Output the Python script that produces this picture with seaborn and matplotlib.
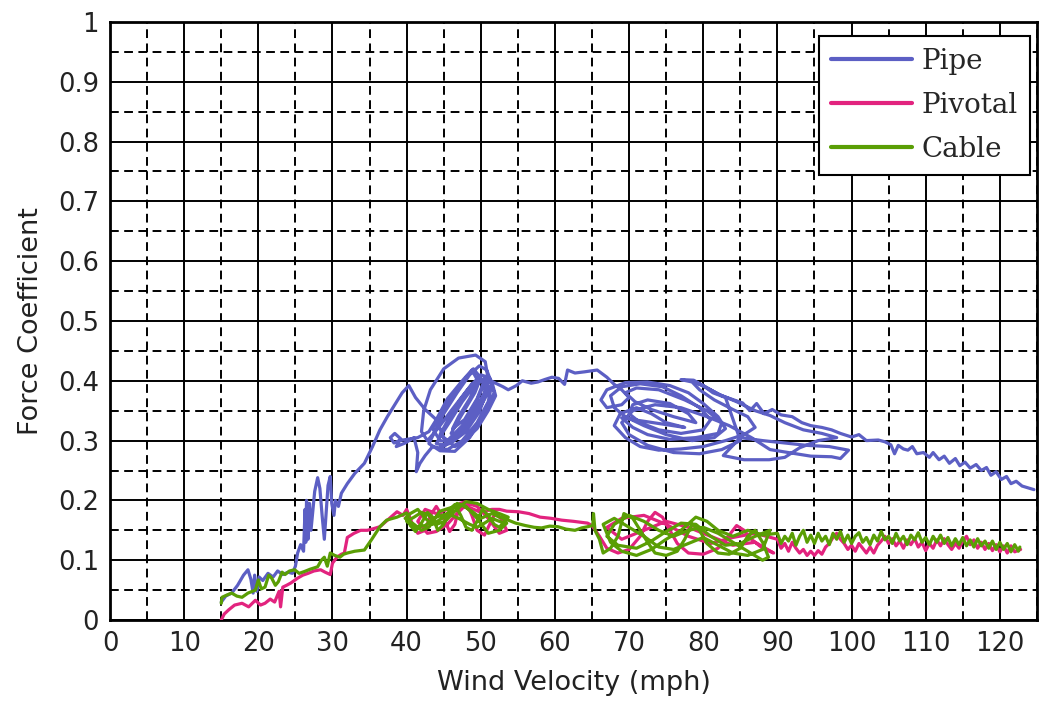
import matplotlib
matplotlib.use("Agg")
import matplotlib.pyplot as plt
import seaborn as sns
import pandas as pd
from matplotlib.ticker import MultipleLocator, FuncFormatter

# ---------------- data ----------------
series_names = ["Pipe", "Pivotal", "Cable"]
series_colors = ["#5c5fc4", "#e2237e", "#5a9e05"]
x_ticks = [0, 10, 20, 30, 40, 50, 60, 70, 80, 90, 100, 110, 120]
y_ticks = [0, 0.1, 0.2, 0.3, 0.4, 0.5, 0.6, 0.7, 0.8, 0.9, 1.0]
x_label = "Wind Velocity (mph)"
y_label = "Force Coefficient"

pipe_xy = [
    (15.0, 0.030), (15.6, 0.040), (16.4, 0.045), (17.2, 0.058), (18.0, 0.075), (18.6, 0.084),
    (19.0, 0.068), (19.3, 0.045), (19.5, 0.075), (19.8, 0.048), (20.1, 0.072), (20.6, 0.066),
    (21.3, 0.078), (22.0, 0.072), (22.6, 0.082), (23.3, 0.076), (24.0, 0.080), (24.6, 0.078),
    (25.0, 0.090), (25.3, 0.112), (25.7, 0.126), (26.1, 0.115), (26.3, 0.185), (26.4, 0.130),
    (26.5, 0.200), (26.7, 0.135), (26.9, 0.195), (27.1, 0.150), (27.6, 0.215), (28.0, 0.238),
    (28.3, 0.220), (28.6, 0.175), (28.9, 0.135), (29.1, 0.170), (29.4, 0.225), (29.7, 0.240),
    (29.9, 0.195), (30.2, 0.175), (30.4, 0.200), (30.8, 0.190), (31.2, 0.212), (32.0, 0.228),
    (33.0, 0.245), (34.3, 0.262), (35.4, 0.290), (36.4, 0.318), (37.4, 0.340), (38.5, 0.362),
    (39.4, 0.380), (40.3, 0.392), (41.2, 0.372), (42.5, 0.352), (44.0, 0.335), (43.0, 0.315),
    (41.5, 0.305), (40.0, 0.302), (39.0, 0.300), (38.3, 0.296), (37.8, 0.305), (38.4, 0.312),
    (39.2, 0.303), (38.6, 0.290), (39.8, 0.296), (41.0, 0.305), (41.5, 0.280), (41.3, 0.248),
    (41.8, 0.262), (42.5, 0.275),
    (43.5, 0.290), (45.5, 0.285), (47.5, 0.300), (49.5, 0.330), (51.0, 0.365), (51.5, 0.395),
    (50.8, 0.418), (49.8, 0.425), (48.5, 0.410), (46.8, 0.380), (45.0, 0.345), (43.8, 0.315),
    (43.0, 0.295), (44.5, 0.283), (46.5, 0.282), (48.5, 0.305), (50.5, 0.345), (51.8, 0.380),
    (51.2, 0.405), (50.0, 0.410), (48.2, 0.385), (46.0, 0.350), (44.2, 0.320), (42.8, 0.300),
    (42.0, 0.315), (42.3, 0.350), (43.2, 0.385), (45.0, 0.420), (47.0, 0.438), (49.3, 0.443),
    (50.6, 0.432), (50.9, 0.410), (50.5, 0.380), (49.0, 0.345), (47.5, 0.318), (46.0, 0.300),
    (44.6, 0.290), (46.0, 0.296), (48.0, 0.315), (49.8, 0.348), (50.8, 0.382), (50.2, 0.402),
    (48.8, 0.395), (47.2, 0.368), (45.6, 0.335), (44.5, 0.310), (45.5, 0.300), (47.5, 0.325),
    (49.2, 0.360), (50.5, 0.395), (51.5, 0.398), (52.0, 0.375), (51.0, 0.350), (49.5, 0.320),
    (47.8, 0.300), (46.5, 0.290), (45.0, 0.305), (44.0, 0.335), (45.5, 0.370), (47.5, 0.400),
    (48.8, 0.418), (49.6, 0.400), (48.5, 0.370), (47.0, 0.340), (46.2, 0.320), (47.8, 0.335),
    (49.5, 0.370), (50.6, 0.405), (49.0, 0.390), (47.5, 0.365), (46.0, 0.335), (44.8, 0.312),
    (44.0, 0.295), (45.2, 0.292), (46.8, 0.308), (48.2, 0.332), (49.8, 0.362), (51.0, 0.390),
    (50.4, 0.372), (49.0, 0.340), (47.2, 0.312), (45.8, 0.298), (44.5, 0.300), (43.5, 0.320),
    (44.8, 0.350), (46.5, 0.378), (48.0, 0.405), (49.0, 0.420), (50.0, 0.405), (49.2, 0.380),
    (48.0, 0.355), (46.8, 0.330), (46.0, 0.312), (47.0, 0.310), (48.5, 0.330), (50.0, 0.358),
    (51.2, 0.385), (50.6, 0.405),
    (52.0, 0.396), (53.0, 0.390), (53.7, 0.385), (54.8, 0.392), (55.6, 0.400), (56.8, 0.396),
    (57.7, 0.398), (58.6, 0.402), (59.6, 0.406), (60.5, 0.404), (61.3, 0.394), (61.7, 0.418),
    (62.7, 0.413), (64.0, 0.415), (65.7, 0.418), (67.0, 0.406), (68.0, 0.394),
    (69.0, 0.385), (70.0, 0.372), (69.0, 0.360), (67.0, 0.355), (66.2, 0.368), (67.0, 0.385),
    (69.5, 0.397), (72.5, 0.398), (75.5, 0.392), (78.0, 0.380), (80.0, 0.362), (82.0, 0.340),
    (83.0, 0.320), (81.5, 0.305), (78.5, 0.300), (75.0, 0.310), (72.0, 0.325), (69.5, 0.340),
    (68.0, 0.355), (67.5, 0.375), (69.0, 0.390), (71.5, 0.395), (74.5, 0.390), (77.0, 0.375),
    (79.5, 0.355), (81.0, 0.335), (80.0, 0.318), (77.0, 0.312), (74.0, 0.318), (71.5, 0.330),
    (70.0, 0.345), (70.5, 0.360), (72.5, 0.368), (75.5, 0.362), (78.0, 0.345), (79.0, 0.330),
    (76.0, 0.340), (73.0, 0.352), (70.8, 0.365), (69.5, 0.380), (71.0, 0.388), (74.0, 0.385),
    (77.5, 0.368), (80.5, 0.350), (82.5, 0.330), (82.0, 0.312), (79.0, 0.305), (75.5, 0.302),
    (72.5, 0.310), (70.5, 0.322), (69.0, 0.338),
    (77.5, 0.322), (75.0, 0.330), (73.0, 0.345), (71.0, 0.355), (68.8, 0.345), (68.0, 0.325),
    (69.5, 0.305), (71.5, 0.290), (74.0, 0.284), (77.0, 0.286), (80.0, 0.290), (83.0, 0.300),
    (85.5, 0.310), (87.0, 0.322), (86.0, 0.340), (84.0, 0.352), (81.5, 0.368), (79.5, 0.385),
    (78.5, 0.398), (77.0, 0.402), (78.7, 0.401), (80.0, 0.392), (81.3, 0.380), (83.0, 0.372),
    (85.0, 0.300), (82.5, 0.285), (79.5, 0.278), (76.0, 0.280), (72.5, 0.292), (70.0, 0.310),
    (69.0, 0.330), (70.5, 0.350), (73.5, 0.360), (77.0, 0.355), (80.5, 0.340), (83.5, 0.325),
    (86.5, 0.305), (89.0, 0.285), (92.0, 0.279), (94.5, 0.274), (97.3, 0.273), (98.5, 0.270),
    (99.6, 0.284), (97.0, 0.290), (94.0, 0.292), (91.0, 0.296), (88.0, 0.300), (85.0, 0.305),
    (82.7, 0.275), (85.5, 0.268), (88.9, 0.268), (91.0, 0.272), (93.0, 0.288), (95.5, 0.300),
    (98.0, 0.305), (96.0, 0.312), (93.5, 0.318), (91.0, 0.330), (89.0, 0.342), (87.0, 0.350),
    (84.5, 0.365), (82.0, 0.378), (80.0, 0.392), (78.5, 0.400), (80.5, 0.388), (82.5, 0.375),
    (85.3, 0.363), (86.3, 0.350), (87.2, 0.362), (88.2, 0.345), (89.3, 0.352), (90.5, 0.343),
    (92.0, 0.340), (93.3, 0.330), (94.5, 0.325), (96.0, 0.322), (97.3, 0.318), (98.5, 0.312),
    (100.0, 0.306), (101.0, 0.310), (102.0, 0.300), (103.6, 0.301), (104.5, 0.298), (105.3, 0.293),
    (105.8, 0.278), (106.3, 0.292), (107.0, 0.286), (107.6, 0.284), (108.2, 0.290), (108.8, 0.278),
    (109.7, 0.280), (110.5, 0.272), (111.0, 0.280), (111.8, 0.268), (112.5, 0.274), (113.2, 0.262),
    (114.0, 0.270), (114.6, 0.258), (115.3, 0.264), (116.0, 0.254), (116.8, 0.260), (117.5, 0.250),
    (118.2, 0.255), (118.8, 0.242), (119.5, 0.248), (120.2, 0.235), (120.9, 0.240), (121.5, 0.228),
    (122.2, 0.232), (123.0, 0.224), (123.8, 0.221), (124.6, 0.218),
]

pivotal_xy = [
    (15.0, 0.000), (15.4, 0.010), (16.0, 0.017), (16.8, 0.025), (17.8, 0.028), (18.7, 0.022),
    (19.6, 0.033), (20.3, 0.025), (20.9, 0.028), (21.6, 0.035), (22.2, 0.030), (22.8, 0.048),
    (23.0, 0.022), (23.3, 0.055), (23.8, 0.058), (24.4, 0.062), (25.3, 0.070), (26.0, 0.075),
    (26.7, 0.078), (27.5, 0.082), (28.4, 0.084), (29.0, 0.080), (29.7, 0.076), (30.0, 0.095),
    (30.6, 0.105), (31.2, 0.110), (31.6, 0.112), (32.0, 0.138), (32.9, 0.145), (33.8, 0.150),
    (34.7, 0.150), (35.6, 0.153), (36.4, 0.156), (37.5, 0.168), (38.7, 0.181), (39.5, 0.175),
    (40.0, 0.185), (40.8, 0.160), (41.5, 0.145), (42.5, 0.150), (43.2, 0.175), (44.0, 0.190),
    (45.0, 0.170), (45.8, 0.148), (46.5, 0.160), (47.2, 0.195), (48.0, 0.198), (48.8, 0.175),
    (49.5, 0.150), (50.5, 0.142), (51.2, 0.160), (52.0, 0.180), (52.8, 0.168), (53.5, 0.150),
    (52.5, 0.145), (51.0, 0.170), (49.5, 0.190), (48.2, 0.195), (46.8, 0.178), (45.5, 0.160),
    (44.0, 0.148), (42.8, 0.145), (41.5, 0.165), (42.5, 0.185), (44.0, 0.178), (45.5, 0.185),
    (47.0, 0.190), (48.5, 0.188), (50.0, 0.180), (51.5, 0.185), (52.5, 0.185), (53.5, 0.182),
    (55.1, 0.181), (56.5, 0.178), (58.0, 0.172), (59.5, 0.170), (60.9, 0.167), (62.5, 0.165),
    (64.4, 0.162), (65.0, 0.158), (66.0, 0.140), (67.0, 0.120), (68.5, 0.112), (70.0, 0.118),
    (71.5, 0.140), (72.5, 0.165), (73.5, 0.180), (74.5, 0.172), (75.5, 0.150), (76.5, 0.128),
    (78.0, 0.112), (80.0, 0.110), (82.0, 0.120), (83.5, 0.142), (84.5, 0.158), (85.5, 0.150),
    (86.5, 0.135), (88.0, 0.120), (89.5, 0.112), (87.0, 0.130), (84.0, 0.125), (81.0, 0.140),
    (78.0, 0.155), (75.0, 0.165), (72.0, 0.150), (69.0, 0.135), (67.0, 0.155), (69.0, 0.170),
    (72.0, 0.175), (75.0, 0.160), (78.0, 0.140), (81.0, 0.128), (84.0, 0.138), (87.0, 0.145),
    (90.0, 0.135), (90.5, 0.120), (91.0, 0.128), (91.5, 0.115), (92.0, 0.130), (92.5, 0.120),
    (93.0, 0.112), (93.5, 0.118), (94.0, 0.108), (94.5, 0.115), (95.0, 0.108), (95.5, 0.116),
    (96.0, 0.110), (96.5, 0.122), (97.0, 0.128), (97.5, 0.138), (98.0, 0.145), (98.5, 0.135),
    (99.0, 0.128), (99.5, 0.118), (100.0, 0.125), (100.5, 0.115), (101.0, 0.128), (101.5, 0.120),
    (102.0, 0.112), (102.5, 0.122), (103.0, 0.112), (103.5, 0.125), (104.0, 0.132), (104.5, 0.140),
    (105.0, 0.128), (105.5, 0.136), (106.0, 0.124), (106.5, 0.132), (107.0, 0.120), (107.5, 0.134),
    (108.0, 0.126), (108.5, 0.136), (109.0, 0.122), (109.5, 0.130), (110.0, 0.116), (110.5, 0.128),
    (111.0, 0.120), (111.5, 0.134), (112.0, 0.124), (112.5, 0.136), (113.0, 0.126), (113.5, 0.118),
    (114.0, 0.128), (114.5, 0.120), (115.0, 0.132), (115.5, 0.140), (116.0, 0.126), (116.5, 0.134),
    (117.0, 0.120), (117.5, 0.130), (118.0, 0.118), (118.5, 0.128), (119.0, 0.116), (119.5, 0.126),
    (120.0, 0.114), (120.5, 0.124), (121.0, 0.112), (121.5, 0.124), (122.0, 0.114), (122.8, 0.118),
]

cable_xy = [
    (15.0, 0.028), (15.1, 0.038), (15.8, 0.042), (16.4, 0.045), (17.1, 0.040), (17.8, 0.038),
    (18.6, 0.045), (19.6, 0.050), (20.0, 0.067), (20.4, 0.052), (20.9, 0.055), (21.4, 0.075),
    (21.8, 0.070), (22.3, 0.058), (22.7, 0.064), (23.2, 0.080), (23.6, 0.076), (24.2, 0.082),
    (24.9, 0.084), (25.5, 0.078), (26.2, 0.081), (27.0, 0.085), (28.0, 0.089), (28.5, 0.100),
    (28.9, 0.105), (29.3, 0.090), (29.7, 0.112), (30.3, 0.108), (31.0, 0.105), (31.5, 0.110),
    (32.0, 0.112), (33.0, 0.115), (34.3, 0.117), (35.3, 0.135), (36.4, 0.156), (37.3, 0.167),
    (38.7, 0.172), (40.0, 0.179), (40.5, 0.158), (41.2, 0.148), (42.0, 0.162), (42.8, 0.180),
    (43.5, 0.172), (44.2, 0.150), (45.0, 0.160), (45.8, 0.185), (46.5, 0.193), (47.3, 0.175),
    (48.0, 0.155), (48.8, 0.150), (49.5, 0.165), (50.2, 0.185), (51.0, 0.175), (51.8, 0.160),
    (52.5, 0.155), (53.2, 0.165), (53.7, 0.172), (52.5, 0.178), (51.0, 0.185), (49.5, 0.195),
    (48.0, 0.198), (46.5, 0.182), (45.2, 0.165), (44.0, 0.160), (43.0, 0.175), (42.0, 0.180),
    (41.0, 0.172), (40.0, 0.165), (41.0, 0.155), (42.5, 0.158), (44.0, 0.172), (45.5, 0.178),
    (47.0, 0.170), (48.5, 0.160), (49.5, 0.155), (50.5, 0.162), (51.5, 0.170), (52.5, 0.165),
    (53.5, 0.162), (52.5, 0.150), (51.0, 0.145), (49.5, 0.170), (48.0, 0.190), (46.8, 0.195),
    (45.5, 0.175), (44.5, 0.168), (43.5, 0.160), (42.5, 0.170), (41.5, 0.185), (40.5, 0.178),
    (39.8, 0.170), (41.0, 0.160), (42.0, 0.150), (43.0, 0.155), (44.5, 0.182), (46.0, 0.188),
    (47.5, 0.192), (49.0, 0.180), (50.0, 0.170), (51.5, 0.178), (52.5, 0.172), (53.5, 0.168),
    (54.7, 0.162), (56.0, 0.158), (57.2, 0.155), (58.2, 0.154), (59.3, 0.157),
    (60.4, 0.156), (61.5, 0.152), (62.7, 0.150), (63.6, 0.154), (64.4, 0.156), (65.1, 0.158),
    (65.2, 0.178), (65.4, 0.150), (66.0, 0.135), (66.5, 0.112), (67.5, 0.120), (68.5, 0.140),
    (69.3, 0.178), (70.5, 0.170), (71.5, 0.150), (72.5, 0.130), (73.5, 0.112), (75.0, 0.108),
    (76.5, 0.115), (77.5, 0.135), (78.5, 0.160), (79.5, 0.150), (80.5, 0.128), (82.0, 0.112),
    (83.5, 0.110), (85.0, 0.120), (86.0, 0.140), (87.0, 0.150), (88.0, 0.130), (88.8, 0.105),
    (88.0, 0.100), (86.0, 0.115), (84.0, 0.130), (82.0, 0.145), (80.0, 0.155), (78.0, 0.150),
    (76.0, 0.140), (74.0, 0.150), (72.0, 0.165), (70.0, 0.175), (68.0, 0.160), (67.0, 0.140),
    (68.5, 0.125), (71.0, 0.120), (73.0, 0.132), (75.0, 0.148), (77.0, 0.162), (79.0, 0.160),
    (81.0, 0.140), (83.0, 0.125), (85.0, 0.128), (87.0, 0.140), (89.0, 0.150), (88.0, 0.118),
    (86.0, 0.108), (84.0, 0.112), (82.0, 0.125), (80.0, 0.138), (78.0, 0.128), (76.0, 0.118),
    (74.0, 0.122), (72.0, 0.140), (70.0, 0.155), (68.0, 0.170), (66.5, 0.160), (67.5, 0.130),
    (69.0, 0.115), (71.0, 0.108), (73.0, 0.118), (75.0, 0.135), (77.0, 0.150), (79.0, 0.172),
    (80.5, 0.165), (82.0, 0.150), (84.0, 0.140), (86.0, 0.150), (88.0, 0.142),
    (90.0, 0.145), (90.5, 0.128), (91.0, 0.140), (91.5, 0.132), (92.0, 0.145), (92.5, 0.125),
    (93.0, 0.140), (93.5, 0.150), (94.0, 0.130), (94.5, 0.142), (95.0, 0.128), (95.5, 0.145),
    (96.0, 0.132), (96.5, 0.140), (97.0, 0.126), (97.5, 0.145), (98.0, 0.135), (98.5, 0.148),
    (99.0, 0.130), (99.5, 0.142), (100.0, 0.128), (100.5, 0.140), (101.0, 0.146), (101.5, 0.130),
    (102.0, 0.138), (102.5, 0.126), (103.0, 0.142), (103.5, 0.132), (104.0, 0.148), (104.5, 0.134),
    (105.0, 0.140), (105.5, 0.128), (106.0, 0.145), (106.5, 0.132), (107.0, 0.140), (107.5, 0.126),
    (108.0, 0.142), (108.5, 0.134), (109.0, 0.146), (109.5, 0.130), (110.0, 0.138), (110.5, 0.126),
    (111.0, 0.140), (111.5, 0.130), (112.0, 0.142), (112.5, 0.128), (113.0, 0.138), (113.5, 0.124),
    (114.0, 0.136), (114.5, 0.126), (115.0, 0.138), (115.5, 0.124), (116.0, 0.134), (116.5, 0.122),
    (117.0, 0.136), (117.5, 0.124), (118.0, 0.132), (118.5, 0.120), (119.0, 0.132), (119.5, 0.118),
    (120.0, 0.130), (120.5, 0.118), (121.0, 0.128), (121.5, 0.114), (122.0, 0.126), (122.5, 0.115),
    (122.7, 0.122),
]

# ---------------- plotting ----------------
sns.set_style("white")
plt.rcParams["font.family"] = ["DejaVu Sans"]

fig = plt.figure(figsize=(10.39, 7.04), dpi=100)
ax = fig.add_axes([0.1059, 0.1193, 0.8921, 0.8495])

for name, pts, col in zip(series_names, [pipe_xy, pivotal_xy, cable_xy], series_colors):
    df = pd.DataFrame(pts, columns=["x", "y"])
    sns.lineplot(data=df, x="x", y="y", sort=False, estimator=None, color=col,
                 linewidth=2.3, label=name, ax=ax, zorder=3)

ax.set_xlim(0, 125)
ax.set_ylim(0, 1)
ax.set_xticks(x_ticks)
ax.set_yticks(y_ticks)
ax.xaxis.set_minor_locator(MultipleLocator(5))
ax.yaxis.set_minor_locator(MultipleLocator(0.05))
ax.yaxis.set_major_formatter(FuncFormatter(lambda v, p: f"{v:g}"))
ax.grid(which="major", color="black", linewidth=1.4, linestyle="-", zorder=1)
ax.grid(which="minor", color="black", linewidth=1.4, linestyle=(0, (4.5, 2.8)), zorder=1)
ax.set_axisbelow(True)
ax.tick_params(which="both", length=0, labelsize=18.5, pad=8, colors="#222222")
for s in ax.spines.values():
    s.set_color("black")
    s.set_linewidth(2.0)

ax.set_xlabel(x_label, fontsize=19.5, color="#222222", labelpad=9)
ax.set_ylabel(y_label, fontsize=19.5, color="#222222", labelpad=10)

leg = ax.legend(loc="upper right", bbox_to_anchor=(0.993, 0.977), fancybox=False,
                framealpha=1, edgecolor="black", prop={"family": "DejaVu Serif", "size": 20},
                handlelength=2.9, handletextpad=0.35, labelspacing=0.6, borderpad=0.45,
                borderaxespad=0)
leg.get_frame().set_linewidth(1.5)
for line in leg.get_lines():
    line.set_linewidth(3)

fig.savefig("out.png", dpi=100)
